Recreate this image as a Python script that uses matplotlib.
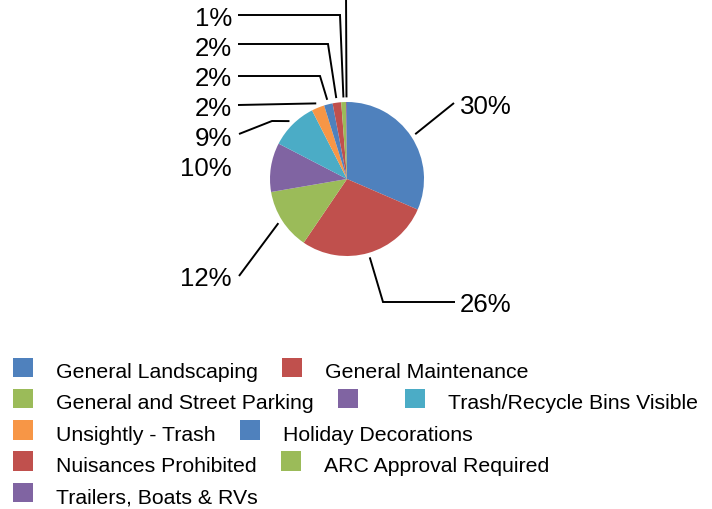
import matplotlib
matplotlib.use('Agg')
import matplotlib.pyplot as plt
from matplotlib.patches import Rectangle
import numpy as np

plt.rcParams['font.family'] = ['Liberation Sans', 'DejaVu Sans']

# categories (4th one has no name in the legend)
categories = ['General Landscaping', 'General Maintenance', 'General and Street Parking', '',
              'Trash/Recycle Bins Visible', 'Unsightly - Trash', 'Holiday Decorations',
              'Nuisances Prohibited', 'ARC Approval Required', 'Trailers, Boats & RVs']
# share of each slice
values = [31.5, 28.0, 12.8, 10.3, 9.9, 2.7, 1.8, 1.8, 1.0, 0.2]
# labels as printed on the chart
pct_labels = ['30%', '26%', '12%', '10%', '9%', '2%', '2%', '2%', '1%', '']

colors = ['#4F81BD', '#C0504D', '#9BBB59', '#8064A2', '#4BACC6',
          '#F79646', '#4F81BD', '#C0504D', '#9BBB59', '#8064A2']

W, H = 712, 510
cx, cy, r = 347, 180, 77

# label layout in pixels (y down): text anchor, alignment, elbow points, line end
label_pos = [(460, 114, 'left'), (460, 312, 'left'), (232, 286, 'right'), (232, 176, 'right'),
             (232, 146, 'right'), (232, 116, 'right'), (232, 86, 'right'), (232, 56, 'right'),
             (232, 26, 'right'), (346, -30, 'right')]
elbows = [[], [(383, 303)], [], None, [(272, 122)], [], [(320, 77)], [(328, 45)],
          [(340, 16)], []]
line_ends = [(454, 104), (455, 303), (239, 277), None, (239, 135), (238, 106),
             (238, 77), (238, 45), (238, 16), (346, -10)]


def py(y):
    return H - y


fig = plt.figure(figsize=(W / 100, H / 100), dpi=100)
ax = fig.add_axes([0, 0, 1, 1])

wedges, _ = ax.pie(values, colors=colors, startangle=90, counterclock=False,
                   center=(cx, py(cy)), radius=r, wedgeprops=dict(linewidth=0))
ax.set_xlim(0, W)
ax.set_ylim(0, H)
ax.set_aspect('auto')
ax.axis('off')

# leader lines + percentage labels
for i, w in enumerate(wedges):
    if elbows[i] is not None:
        mid = np.deg2rad((w.theta1 + w.theta2) / 2)
        x0 = cx + 1.06 * r * np.cos(mid)
        y0 = py(cy) + 1.06 * r * np.sin(mid)
        pts = [(x0, y0)] + [(x, py(y)) for x, y in elbows[i]] + [(line_ends[i][0], py(line_ends[i][1]))]
        pts = np.array(pts)
        ax.plot(pts[:, 0], pts[:, 1], color='black', lw=1.4, clip_on=False,
                solid_capstyle='butt', solid_joinstyle='miter')
    tx, ty, ha = label_pos[i]
    if pct_labels[i]:
        ax.text(tx, py(ty), pct_labels[i], fontsize=18.6, ha=ha, va='baseline', color='black')

# legend, flowed left to right like the original
renderer = fig.canvas.get_renderer()
box = 19.4
x0_leg = 13.3
x = x0_leg
row_top = 358.5
text_gap = 42.7
item_gap = 24.5
row_step = 31.3
for name, col in zip(categories, colors):
    t = ax.text(0, 0, name, fontsize=15.3, ha='left', va='baseline')
    tw = t.get_window_extent(renderer).width if name else 0
    if x > x0_leg and x + text_gap + tw > 708:
        x = x0_leg
        row_top += row_step
    ax.add_patch(Rectangle((x, py(row_top + box)), box, box, facecolor=col,
                           edgecolor='none', clip_on=False))
    t.set_position((x + text_gap, py(row_top + 19.5)))
    x = x + text_gap + tw + item_gap

fig.savefig('out.png', dpi=100)
